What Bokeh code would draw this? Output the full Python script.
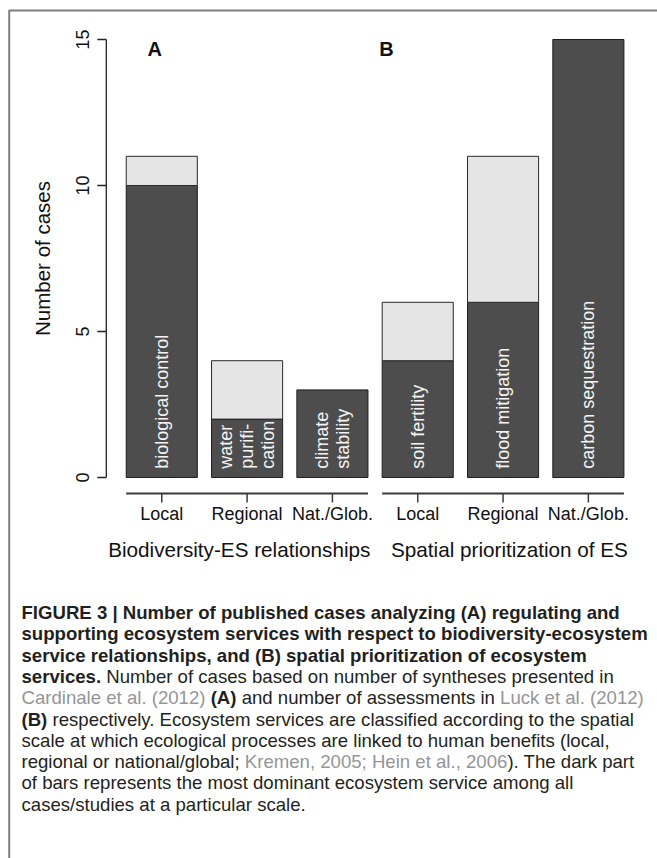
import math
from bokeh.plotting import figure
from bokeh.models import Range1d, ColumnDataSource
from bokeh.core.properties import value, field
from bokeh.embed import file_html
from bokeh.resources import INLINE

# ---------------- data ----------------
scales = ["Local", "Regional", "Nat./Glob.", "Local", "Regional", "Nat./Glob."]
group_names = ["Biodiversity-ES relationships", "Spatial prioritization of ES"]
panel_letters = ["A", "B"]
dominant_cases = [10, 2, 3, 4, 6, 15]
other_cases = [1, 2, 0, 2, 5, 0]
dominant_service = [["biological control"], ["water", "purifi-", "cation"],
                    ["climate", "stability"], ["soil fertility"],
                    ["flood mitigation"], ["carbon sequestration"]]
y_ticks = [0, 5, 10, 15]
y_label = "Number of cases"

caption_lines = [
    [("FIGURE 3 | Number of published cases analyzing (A) regulating and", "b")],
    [("supporting ecosystem services with respect to biodiversity-ecosystem", "b")],
    [("service relationships, and (B) spatial prioritization of ecosystem", "b")],
    [("services.", "b"), (" Number of cases based on number of syntheses presented in", "r")],
    [("Cardinale et al. (2012)", "g"), (" (A)", "b"), (" and number of assessments in ", "r"),
     ("Luck et al. (2012)", "g")],
    [("(B)", "b"), (" respectively. Ecosystem services are classified according to the spatial", "r")],
    [("scale at which ecological processes are linked to human benefits (local,", "r")],
    [("regional or national/global; ", "r"), ("Kremen, 2005; Hein et al., 2006", "g"),
     ("). The dark part", "r")],
    [("of bars represents the most dominant ecosystem service among all", "r")],
    [("cases/studies at a particular scale.", "r")],
]

# ---------------- layout ----------------
W, H = 657, 858
BAR_W, SPACE = 1.0, 0.2
X0_PX, PX_X = 111.5, 71.1     # canvas px of x=0, px per unit
Y0_PX, PX_Y = 477.0, 29.2     # canvas px of y=0, px per unit
FONT = value("Liberation Sans")
DARK, LIGHT = "#4d4d4d", "#e5e5e5"
GROUP_LABEL_X = [1.79, 5.59]
PANEL_X, PANEL_Y = [0.6, 3.86], 14.66


def dx(px):
    return px / PX_X


def dy(px):
    return px / PX_Y


p = figure(width=W, height=H, title=None,
           x_range=Range1d(-X0_PX / PX_X, (W - X0_PX) / PX_X),
           y_range=Range1d(-(H - Y0_PX) / PX_Y, Y0_PX / PX_Y),
           output_backend="svg", toolbar_location=None,
           x_axis_location=None, y_axis_location=None, min_border=0)
p.grid.visible = False
p.outline_line_color = None
p.background_fill_color = "white"
p.border_fill_color = "white"
p.extra_x_ranges = {"px": Range1d(0, W)}
p.extra_y_ranges = {"px": Range1d(H, 0)}

# frame border (top and left)
p.segment(x0=[8, 8.7], y0=[10, 10], x1=[W, 8.7], y1=[10, H], line_color="#7f7f7f",
          line_width=2, x_range_name="px", y_range_name="px")

# bars
n = len(dominant_cases)
lefts = [SPACE + i * (BAR_W + SPACE) for i in range(n)]
centers = [l + BAR_W / 2 for l in lefts]
p.vbar(x=centers, width=BAR_W, bottom=0, top=dominant_cases, fill_color=DARK,
       line_color="#1e1e1e", line_width=1)
lc = [c for c, o in zip(centers, other_cases) if o > 0]
lb = [d for d, o in zip(dominant_cases, other_cases) if o > 0]
lt = [d + o for d, o in zip(dominant_cases, other_cases) if o > 0]
p.vbar(x=lc, width=BAR_W, bottom=lb, top=lt, fill_color=LIGHT,
       line_color="#2a2a2a", line_width=1)

# service names inside bars
sx, sy, st = [], [], []
for c, lines in zip(centers, dominant_service):
    k = len(lines)
    for j, t in enumerate(lines):
        sx.append(c + dx((j - (k - 1) / 2) * 21))
        sy.append(0.3)
        st.append(t)
p.text(x=sx, y=sy, text=st, angle=math.pi / 2, text_align="left", text_baseline="middle",
       text_color="#f4f4f4", text_font=FONT, text_font_size=value("18px"))

# y axis (R style)
xlo, xhi = lefts[0], lefts[-1] + BAR_W
ax = xlo - 0.04 * (xhi - xlo)
p.segment(x0=[ax], y0=[y_ticks[0]], x1=[ax], y1=[y_ticks[-1]], line_color="#222222", line_width=1.3)
p.segment(x0=[ax] * len(y_ticks), y0=y_ticks, x1=[ax - dx(9)] * len(y_ticks), y1=y_ticks,
          line_color="#222222", line_width=1.3)
p.text(x=[ax - dx(23.5)] * len(y_ticks), y=y_ticks, text=[str(t) for t in y_ticks],
       angle=math.pi / 2, text_align="center", text_baseline="middle",
       text_color="#111111", text_font=FONT, text_font_size=value("18px"))
p.text(x=[ax - dx(64)], y=[(y_ticks[0] + y_ticks[-1]) / 2], text=[y_label],
       angle=math.pi / 2, text_align="center", text_baseline="middle",
       text_color="#111111", text_font=FONT, text_font_size=value("20.5px"))

# group axes below bars
gy = -dy(16)
for g in range(2):
    a, b = 3 * g, 3 * g + 2
    p.segment(x0=[lefts[a]], y0=[gy], x1=[lefts[b] + BAR_W], y1=[gy],
              line_color="#3a3a3a", line_width=2)
p.text(x=GROUP_LABEL_X, y=[-dy(72)] * 2, text=group_names,
       text_align="center", text_baseline="middle", text_color="#111111",
       text_font=FONT, text_font_size=value("20.7px"))
p.segment(x0=centers, y0=[gy] * n, x1=centers, y1=[-dy(25)] * n,
          line_color="#3a3a3a", line_width=1.5)
p.text(x=centers, y=[-dy(36)] * n, text=scales, text_align="center", text_baseline="middle",
       text_color="#111111", text_font=FONT, text_font_size=value("18px"))

# panel letters
p.text(x=PANEL_X, y=[PANEL_Y] * 2, text=panel_letters, text_align="center",
       text_baseline="middle", text_color="#111111", text_font=FONT,
       text_font_size=value("20px"), text_font_style="bold")

# ---------------- caption (mixed styles) ----------------
_up = "ABCDEFGHIJKLMNOPQRSTUVWXYZ"
_lo = "abcdefghijklmnopqrstuvwxyz"
REG = dict(zip(_up, [667, 667, 722, 722, 667, 611, 778, 722, 278, 500, 667, 556, 833, 722, 778, 667,
                     778, 722, 667, 611, 722, 667, 944, 667, 667, 611]))
REG.update(zip(_lo, [556, 556, 500, 556, 556, 278, 556, 556, 222, 222, 500, 222, 833, 556, 556, 556,
                     556, 333, 500, 278, 556, 500, 722, 500, 500, 500]))
REG.update(zip(" ()-,./:;|", [278, 333, 333, 333, 278, 278, 278, 278, 278, 260]))
REG.update({d: 556 for d in "0123456789"})
BLD = dict(zip(_up, [722, 722, 722, 722, 667, 611, 778, 722, 278, 556, 722, 611, 833, 722, 778, 667,
                     778, 722, 667, 611, 722, 667, 944, 667, 667, 611]))
BLD.update(zip(_lo, [556, 611, 556, 611, 556, 333, 611, 611, 278, 278, 556, 278, 889, 611, 611, 611,
                     611, 389, 556, 333, 611, 556, 778, 556, 556, 500]))
BLD.update(zip(" ()-,./:;|", [278, 333, 333, 333, 278, 278, 278, 333, 333, 280]))
BLD.update({d: 556 for d in "0123456789"})

CAP_SIZE = 18.6
CAP_X0, CAP_Y0, CAP_LH = 21.0, 612.0, 21.3
colors = {"b": "#231f20", "r": "#231f20", "g": "#939598"}


def tw(s, bold):
    t = BLD if bold else REG
    return sum(t.get(ch, 556) for ch in s) * CAP_SIZE / 1000.0


cx, cy, ct, cs, cc = [], [], [], [], []
for i, line in enumerate(caption_lines):
    x = CAP_X0
    y = CAP_Y0 + i * CAP_LH
    for seg, kind in line:
        bold = kind == "b"
        lead = len(seg) - len(seg.lstrip(" "))
        txt = seg.strip(" ")
        cx.append(x + tw(seg[:lead], bold))
        cy.append(y)
        ct.append(txt)
        cs.append("bold" if bold else "normal")
        cc.append(colors[kind])
        x += tw(seg, bold)
cap = ColumnDataSource(dict(x=cx, y=cy, text=ct, style=cs, color=cc))
p.text(x="x", y="y", text="text", source=cap, text_font_style=field("style"),
       text_color=field("color"), text_font=FONT, text_font_size=value(f"{CAP_SIZE}px"),
       text_align="left", text_baseline="middle", x_range_name="px", y_range_name="px")

open("out.html", "w").write(file_html(p, INLINE))
